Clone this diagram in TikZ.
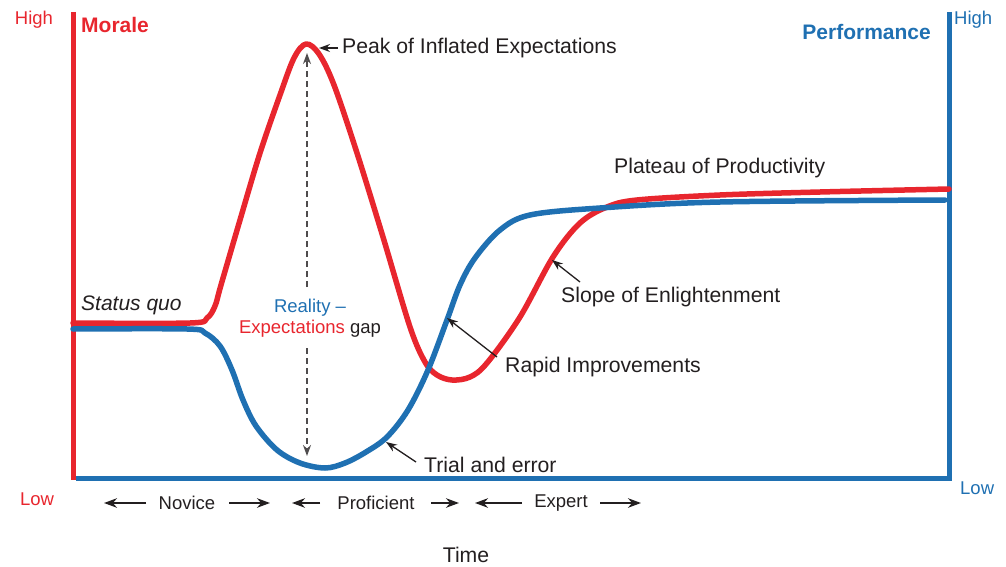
\documentclass[tikz,border=0pt]{standalone}
\usepackage{fontspec}
\setmainfont{Liberation Sans}
\usetikzlibrary{arrows.meta}
\definecolor{mred}{RGB}{232,38,46}
\definecolor{pblue}{RGB}{31,112,178}
\definecolor{ink}{RGB}{35,31,32}
\tikzset{
  axisred/.style={draw=mred,line width=5pt},
  axisblue/.style={draw=pblue,line width=5pt},
  curve/.style={line width=5.5pt,line cap=round,line join=round},
  lbl/.style={text=ink,inner sep=0pt,font=\fontsize{21.2}{24}\selectfont},
  small/.style={inner sep=0pt,font=\fontsize{18.5}{22}\selectfont},
  pointer/.style={draw=ink,line width=1.3pt,-{Stealth[length=11pt,width=8pt]}},
  phase/.style={draw=ink,line width=2.2pt,-{Stealth[length=13pt,width=9.5pt]}},
  gap/.style={draw=ink!80,line width=1.3pt,dash pattern=on 6pt off 4pt,-{Stealth[length=11pt,width=8pt]}}
}
\begin{document}
\begin{tikzpicture}[x=1pt,y=-1pt]
\useasboundingbox (0,0) rectangle (1006,567);

% axes
\draw[axisred] (73,12) -- (73,480);
\draw[axisblue] (75.5,478) -- (951.5,478);
\draw[axisblue] (949,12) -- (949,480);

% axis labels
\node[small,text=mred] (hiL) at (34,20) {High};
\node[small,text=mred] (loL) at (37,499) {Low};
\node[small,text=pblue,anchor=west] (hiR) at (954,20) {High};
\node[small,text=pblue,anchor=west] (loR) at (960,488) {Low};
\node[inner sep=0pt,anchor=west,text=mred,font=\fontsize{21}{24}\selectfont\bfseries] (morale) at (81,25) {Morale};
\node[inner sep=0pt,anchor=east,text=pblue,font=\fontsize{21}{24}\selectfont\bfseries] (perf) at (931,32) {Performance};

% morale curve
\draw[curve,draw=mred] plot[smooth,tension=0.55] coordinates {
  (73,323) (190,323) (207,318) (215,306) (221,285) (240,220) (260,153)
  (280,95) (294,58) (306,44) (319,54) (334,85) (357,153) (383,237)
  (410,327) (425,362) (437,375) (452,380) (470,377) (487,363) (520,317)
  (553,257) (580,223) (607,207) (637,200) (720,195) (820,192) (949,189)};

% performance curve
\draw[curve,draw=pblue] plot[smooth,tension=0.55] coordinates {
  (73,329) (187,329) (205,333) (220,346) (232,370) (243,400) (256,426)
  (277,450) (300,463) (325,468) (345,463) (366,452) (387,437) (408,410)
  (428,370) (447,320) (460,285) (475,258) (500,230) (530,215) (600,208)
  (720,202) (945,200)};

% curve annotations
\node[lbl,anchor=west] (peak) at (342,48) {Peak of Inflated Expectations};
\node[lbl,anchor=west] (plateau) at (614,168) {Plateau of Productivity};
\node[lbl,anchor=west] (slope) at (561,297) {Slope of Enlightenment};
\node[lbl,anchor=west] (rapid) at (505,367) {Rapid Improvements};
\node[lbl,anchor=west] (trial) at (424,465) {Trial and error};
\node[lbl,anchor=west,font=\fontsize{21}{24}\selectfont\itshape] (status) at (81,305) {Status quo};

\coordinate (peakTip) at (319,48);
\coordinate (peakTail) at (338,48);
\coordinate (slopeTip) at (552,260);
\coordinate (slopeTail) at (580,282);
\coordinate (rapidTip) at (447,318);
\coordinate (rapidTail) at (497,357);
\coordinate (trialTip) at (386,442);
\coordinate (trialTail) at (416,462);

\draw[pointer] (peakTail) -- (peakTip);
\draw[pointer] (slopeTail) -- (slopeTip);
\draw[pointer] (rapidTail) -- (rapidTip);
\draw[pointer] (trialTail) -- (trialTip);

% expectation gap
\node[small,align=center,inner sep=0pt] (gapText) at (310,318)
  {\textcolor{pblue}{Reality –}\\[-1pt]\textcolor{mred}{Expectations} \textcolor{ink}{gap}};
\coordinate (gapTop) at (307,53);
\coordinate (gapBot) at (307,456);
\draw[gap] (307,287) -- (gapTop);
\draw[gap] (307,348) -- (gapBot);

% phases along the time axis
\node[small,text=ink] (novice) at (187,503) {Novice};
\node[small,text=ink] (prof) at (376,503) {Proficient};
\node[small,text=ink] (expert) at (561,503) {Expert};
\coordinate (nL) at (104,503); \coordinate (nLt) at (146,503);
\coordinate (nR) at (270,503); \coordinate (nRt) at (229,503);
\coordinate (pL) at (292,503); \coordinate (pLt) at (320,503);
\coordinate (pR) at (459,503); \coordinate (pRt) at (431,503);
\coordinate (eL) at (475,503); \coordinate (eLt) at (522,503);
\coordinate (eR) at (641,503); \coordinate (eRt) at (600,503);
\draw[phase] (nLt) -- (nL);
\draw[phase] (nRt) -- (nR);
\draw[phase] (pLt) -- (pL);
\draw[phase] (pRt) -- (pR);
\draw[phase] (eLt) -- (eL);
\draw[phase] (eRt) -- (eR);

\node[lbl] (time) at (466,555) {Time};
\end{tikzpicture}
\end{document}
